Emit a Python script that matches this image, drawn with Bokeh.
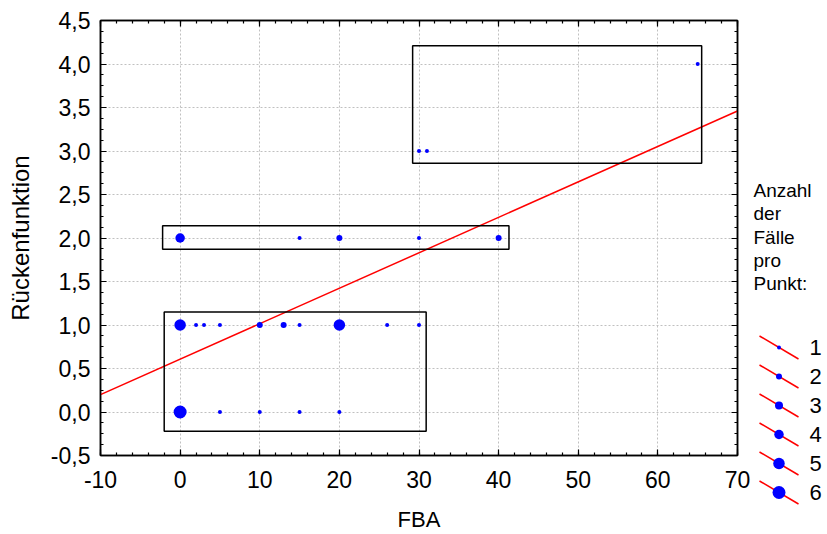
from bokeh.plotting import figure
from bokeh.models import Range1d, LinearAxis, SingleIntervalTicker, ColumnDataSource, CustomJSTickFormatter
from bokeh.layouts import row
from bokeh.embed import file_html
from bokeh.resources import INLINE
from bokeh.core.properties import value

# ---------------- data ----------------
fba = [0, 15, 20, 30, 40,
       0, 2, 3, 5, 10, 13, 15, 20, 26, 30,
       0, 5, 10, 15, 20,
       30, 31, 65]
ruecken = [2, 2, 2, 2, 2,
           1, 1, 1, 1, 1, 1, 1, 1, 1, 1,
           0, 0, 0, 0, 0,
           3, 3, 4]
anzahl = [4, 1, 2, 1, 2,
          5, 1, 1, 1, 2, 2, 1, 5, 1, 1,
          6, 1, 1, 1, 1,
          1, 1, 1]

reg_x = [-10, 70]
reg_y = [0.20, 3.46]

box_left = [-2.0, -2.2, 29.2]
box_right = [30.9, 41.3, 65.5]
box_bottom = [-0.22, 1.87, 2.86]
box_top = [1.15, 2.14, 4.21]

legend_counts = [1, 2, 3, 4, 5, 6]
legend_title = ["Anzahl", "der", "Fälle", "pro", "Punkt:"]

x_label = "FBA"
y_label = "Rückenfunktion"

# ---------------- styling ----------------
FONT = "Liberation Sans"
size_by_count = {1: 4, 2: 6, 3: 8, 4: 9.5, 5: 11.5, 6: 13}
BLUE = "#0000ff"
RED = "#ff0000"

W_MAIN, H = 751, 534
W_LEG = 72

p = figure(width=W_MAIN, height=H, x_range=Range1d(-10, 70), y_range=Range1d(-0.5, 4.5),
           output_backend="svg", toolbar_location=None,
           min_border_left=100, min_border_right=14, min_border_top=20, min_border_bottom=77)
p.background_fill_color = "white"
p.border_fill_color = "white"
p.outline_line_color = "black"
p.outline_line_width = 1.5
p.frame_align = False

xt = SingleIntervalTicker(interval=10, num_minor_ticks=5)
yt = SingleIntervalTicker(interval=0.5, num_minor_ticks=4)
xfmt = CustomJSTickFormatter(code="return tick.toFixed(0);")
yfmt = CustomJSTickFormatter(code="return tick.toFixed(1).replace('.', ',');")
blank = CustomJSTickFormatter(code="return '';")

def style_axis(ax):
    ax.axis_line_color = "black"
    ax.axis_line_width = 1.5
    ax.major_tick_line_color = "black"
    ax.minor_tick_line_color = "black"
    ax.major_tick_line_width = 1.2
    ax.minor_tick_line_width = 1.2
    ax.major_tick_in = 6
    ax.major_tick_out = 0
    ax.minor_tick_in = 3
    ax.minor_tick_out = 0
    ax.major_label_text_font = FONT
    ax.major_label_text_font_size = "23px"
    ax.major_label_text_color = "black"
    ax.axis_label_text_font = FONT
    ax.axis_label_text_font_size = "21px"
    ax.axis_label_text_font_style = "normal"
    ax.axis_label_text_color = "black"

xa = p.xaxis[0]
xa.ticker = xt
xa.formatter = xfmt
style_axis(xa)
xa.axis_label = x_label
xa.axis_label_text_font_size = "22px"
xa.major_label_standoff = 15
xa.axis_label_standoff = 16

ya = p.yaxis[0]
ya.ticker = yt
ya.formatter = yfmt
style_axis(ya)
ya.axis_label = y_label
ya.axis_label_text_font_size = "24px"
ya.major_label_standoff = 10
ya.axis_label_standoff = 14

top = LinearAxis(ticker=SingleIntervalTicker(interval=10, num_minor_ticks=5), formatter=blank)
style_axis(top)
top.major_label_standoff = 0
p.add_layout(top, "above")
right = LinearAxis(ticker=SingleIntervalTicker(interval=0.5, num_minor_ticks=4), formatter=blank)
style_axis(right)
right.major_label_standoff = 0
p.add_layout(right, "right")

p.xgrid.ticker = xt
p.ygrid.ticker = yt
for g in (p.xgrid[0], p.ygrid[0]):
    g.grid_line_color = "#c0c0c0"
    g.grid_line_dash = "2 2"
    g.grid_line_width = 1

src = ColumnDataSource(dict(x=fba, y=ruecken, n=anzahl,
                            s=[size_by_count[c] for c in anzahl]))
p.line(reg_x, reg_y, line_color=RED, line_width=1.5)
p.scatter("x", "y", size="s", source=src, fill_color=BLUE, line_color=BLUE, line_width=0)
p.quad(left=box_left, right=box_right, bottom=box_bottom, top=box_top,
       fill_alpha=0, line_color="black", line_width=1.5)

# ---------------- legend panel ----------------
lg = figure(width=W_LEG, height=H, x_range=Range1d(0, W_LEG), y_range=Range1d(H, 0),
            output_backend="svg", toolbar_location=None,
            min_border_left=0, min_border_right=0, min_border_top=0, min_border_bottom=0)
lg.frame_align = False
lg.axis.visible = False
lg.grid.visible = False
lg.outline_line_color = None
lg.background_fill_color = "white"
lg.border_fill_color = "white"

title_y0, title_dy = 190, 23.3
lg.text(x=[2] * len(legend_title), y=[title_y0 + i * title_dy for i in range(len(legend_title))],
        text=legend_title, text_font=value(FONT), text_font_size="19px",
        text_baseline="middle", text_align="left", text_color="black")

ent_y0, ent_dy = 347, 29
cy = [ent_y0 + i * ent_dy for i in range(len(legend_counts))]
lg.segment(x0=[8] * len(cy), y0=[c - 11.5 for c in cy], x1=[47] * len(cy), y1=[c + 11.5 for c in cy],
           line_color=RED, line_width=1.5)
lg.scatter(x=[27.5] * len(cy), y=cy, size=[size_by_count[c] for c in legend_counts],
           fill_color=BLUE, line_color=BLUE, line_width=0)
lg.text(x=[58] * len(cy), y=cy, text=[str(c) for c in legend_counts],
        text_font=value(FONT), text_font_size="22px", text_baseline="middle",
        text_align="left", text_color="black")

layout = row(p, lg)
open("out.html", "w").write(file_html(layout, INLINE))
